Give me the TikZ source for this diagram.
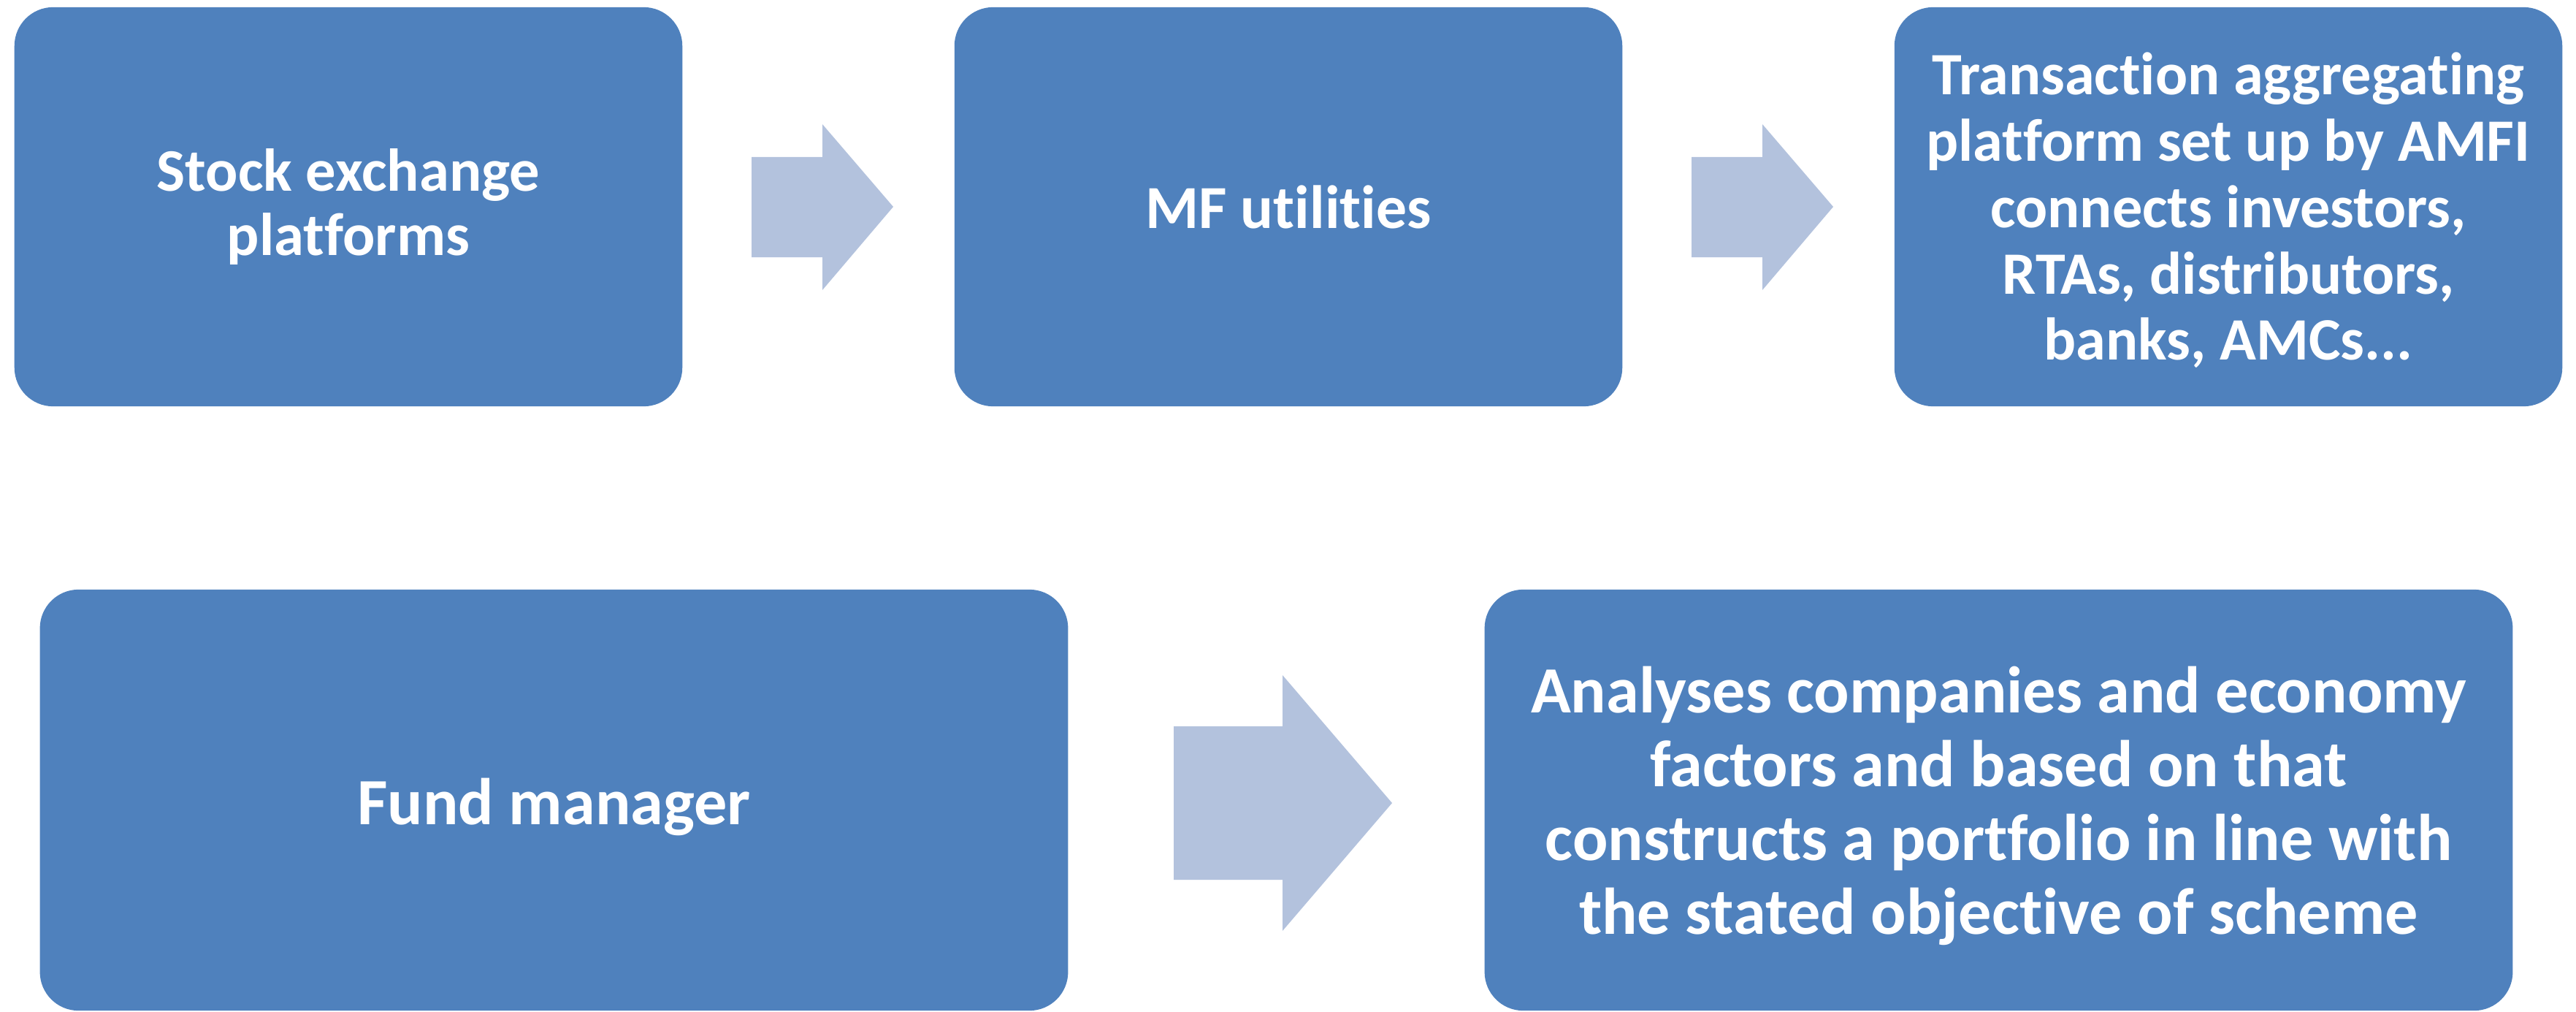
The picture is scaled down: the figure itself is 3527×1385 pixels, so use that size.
\documentclass[tikz,border=0pt]{standalone}
\usepackage{fontspec}
\setmainfont{Carlito}[RawFeature=-liga]
\definecolor{boxblue}{HTML}{4F81BD}
\definecolor{arrowblue}{HTML}{B3C2DD}
\begin{document}
\begin{tikzpicture}[x=0.01cm,y=-0.01cm,
  card/.style={fill=boxblue, draw=none, rounded corners=0.53cm, inner sep=0pt},
  topcard/.style={card, minimum width=9.14cm, minimum height=5.46cm},
  lowcard/.style={card, minimum width=14.07cm, minimum height=5.76cm},
  cardtext/.style={text=white, align=center, inner sep=0pt},
  blockarrow/.style={fill=arrowblue, draw=none}]
\useasboundingbox (0,0) rectangle (3527,1385);

% top row
\node[topcard] (se) at (477,283) {};
\node[topcard] (mfu) at (1764,283) {};
\node[topcard] (tap) at (3051,283) {};
\node[cardtext, font=\fontsize{23.5pt}{25pt}\selectfont\bfseries] (se-t) at (se.center)
  {Stock exchange\\platforms};
\node[cardtext, font=\fontsize{23.8pt}{25pt}\selectfont\bfseries] (mfu-t) at (mfu.center)
  {MF utilities};
\node[cardtext, font=\fontsize{23.4pt}{25.8pt}\selectfont\bfseries] (tap-t)
  at ([yshift=-0.05cm]tap.center)
  {Transaction aggregating\\platform set up by AMFI\\connects investors,\\RTAs, distributors,\\banks, AMCs...};

% bottom row
\node[lowcard] (fm) at (758.5,1095) {};
\node[lowcard] (an) at (2736.5,1095) {};
\node[cardtext, font=\fontsize{25.7pt}{28pt}\selectfont\bfseries] (fm-t)
  at ([yshift=-0.09cm]fm.center) {Fund manager};
\node[cardtext, font=\fontsize{25.7pt}{28.7pt}\selectfont\bfseries] (an-t)
  at ([yshift=-0.08cm]an.center)
  {Analyses companies and economy\\factors and based on that\\constructs a portfolio in line with\\the stated objective of scheme};

% block arrows between the cards
\fill[blockarrow] (1029,215) -- (1126,215) -- (1126,170) -- (1223,283)
  -- (1126,397) -- (1126,352) -- (1029,352) -- cycle;
\fill[blockarrow] (2316,215) -- (2413,215) -- (2413,170) -- (2510,283)
  -- (2413,397) -- (2413,352) -- (2316,352) -- cycle;
\fill[blockarrow] (1607,994) -- (1756,994) -- (1756,924) -- (1906,1099)
  -- (1756,1274) -- (1756,1204) -- (1607,1204) -- cycle;
\end{tikzpicture}
\end{document}
